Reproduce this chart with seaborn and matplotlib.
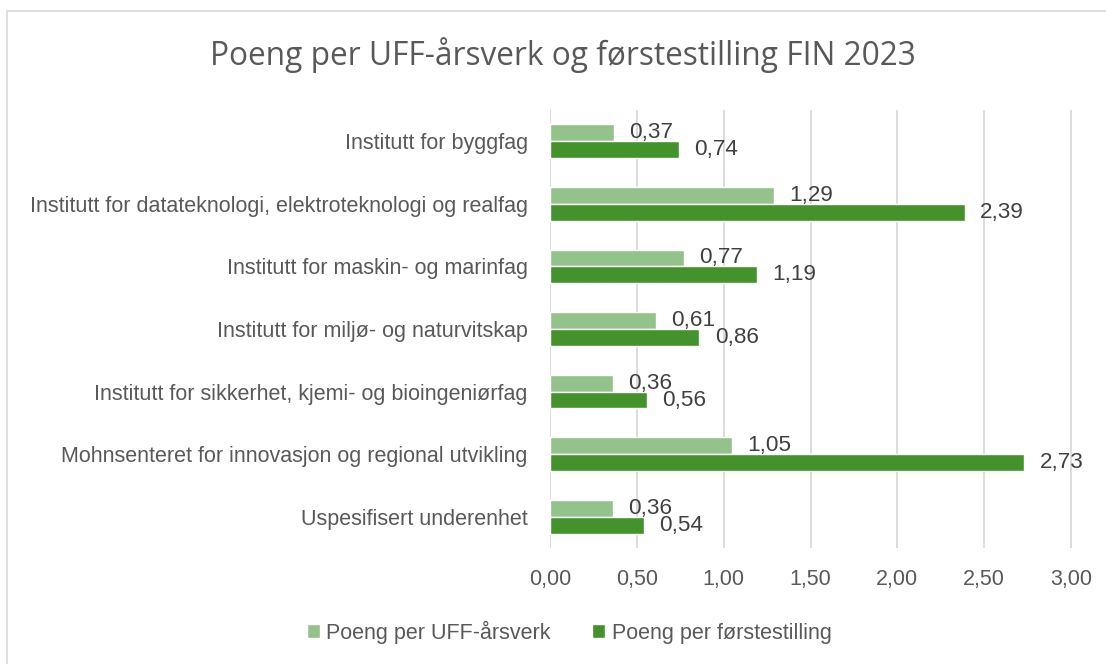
import pandas as pd
import matplotlib.pyplot as plt
import seaborn as sns
from matplotlib.patches import Rectangle

# Data
units = [
    'Institutt for byggfag',
    'Institutt for datateknologi, elektroteknologi og realfag',
    'Institutt for maskin- og marinfag',
    'Institutt for miljø- og naturvitskap',
    'Institutt for sikkerhet, kjemi- og bioingeniørfag',
    'Mohnsenteret for innovasjon og regional utvikling',
    'Uspesifisert underenhet',
]
per_uff = [0.37, 1.29, 0.77, 0.61, 0.36, 1.05, 0.36]
per_forste = [0.74, 2.39, 1.19, 0.86, 0.56, 2.73, 0.54]
series = ['Poeng per UFF-årsverk', 'Poeng per førstestilling']
x_ticks = [0.0, 0.5, 1.0, 1.5, 2.0, 2.5, 3.0]

light_green = '#93C28A'
dark_green = '#44922B'
text_col = '#595959'

df = pd.DataFrame({
    'enhet': units * 2,
    'verdi': per_uff + per_forste,
    'serie': [series[0]] * len(units) + [series[1]] * len(units),
})

sns.set_theme(style='white')
plt.rcParams['font.family'] = ['Liberation Sans', 'DejaVu Sans']

fig = plt.figure(figsize=(11.06, 6.64), dpi=100)
fig.patches.append(Rectangle((7 / 1106, -0.05), 1.2, 1 - 11 / 664 + 0.05,
                             transform=fig.transFigure, fill=False,
                             edgecolor='#D9D9D9', linewidth=1.2))

ax = fig.add_axes([550 / 1106, 1 - 548 / 664, 521 * 3.01 / 3 / 1106, 438 / 664])
sns.barplot(data=df, y='enhet', x='verdi', hue='serie', orient='h',
            palette=[light_green, dark_green], width=0.54, gap=0,
            saturation=1, ax=ax, legend=True)

ax.set_xlim(0, 3.01)
ax.set_ylim(len(units) - 0.5, -0.5)
ax.set_xticks(x_ticks)
ax.set_xticklabels([f'{v:.2f}'.replace('.', ',') for v in x_ticks])
ax.xaxis.grid(True, color='#D9D9D9', linewidth=1.3)
ax.set_axisbelow(True)
for s in ax.spines.values():
    s.set_visible(False)
ax.set_xlabel('')
ax.set_ylabel('')
ax.tick_params(axis='x', labelsize=15.5, colors=text_col, pad=15, length=0)
ax.tick_params(axis='y', labelsize=15.5, colors=text_col, pad=16, length=0)

for cont in ax.containers:
    ax.bar_label(cont, labels=[f'{v:.2f}'.replace('.', ',') for v in cont.datavalues],
                 padding=11, fontsize=16.2, color='#404040')

leg = ax.legend(loc='center', bbox_to_anchor=(569 / 1106, 1 - 632 / 664),
                bbox_transform=fig.transFigure, ncol=2, frameon=False,
                fontsize=15.5, handlelength=0.62, handleheight=0.62,
                handletextpad=0.3, columnspacing=1.9)
for t in leg.get_texts():
    t.set_color(text_col)

fig.text(563 / 1106, 1 - 55 / 664, 'Poeng per UFF-årsverk og førstestilling FIN 2023',
         ha='center', va='center', fontsize=22.8, color=text_col,
         family=['Open Sans', 'DejaVu Sans'])

fig.savefig('out.png', dpi=100)
